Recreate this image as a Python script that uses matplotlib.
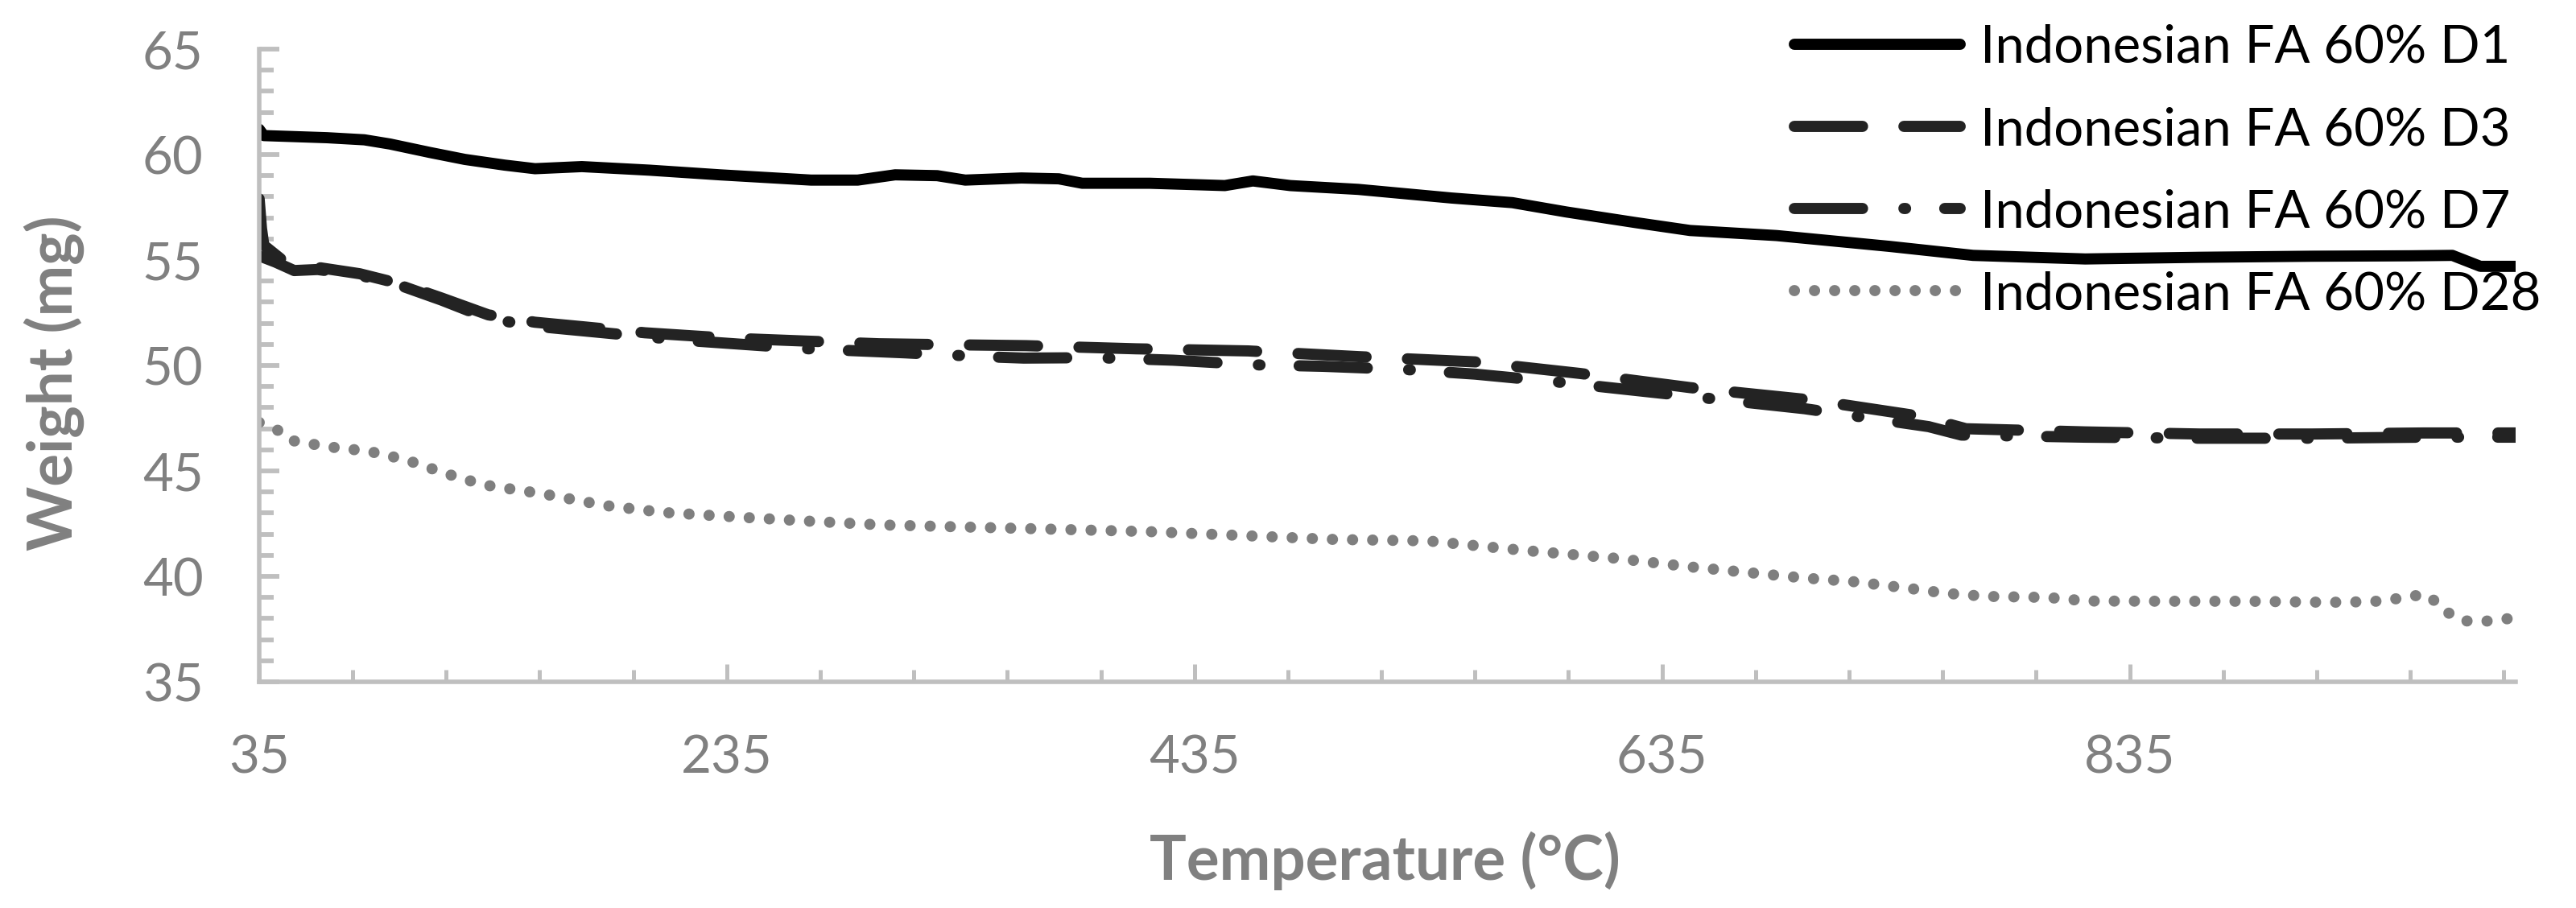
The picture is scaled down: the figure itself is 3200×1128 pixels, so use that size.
import numpy as np
import matplotlib
matplotlib.use("Agg")
import matplotlib.pyplot as plt
from matplotlib.ticker import MultipleLocator, FixedLocator

plt.rcParams['font.family'] = ['Lato', 'DejaVu Sans']

# ------------------------ data ------------------------
t_d1 = [35, 37, 64, 80, 91, 108, 123, 140, 153, 173, 202, 232, 271, 291, 307, 325,
        337, 361, 377, 387, 416, 448, 460, 476, 505, 545, 571, 594, 624, 647, 684,
        732, 768, 816, 865, 913, 955, 973, 985, 1000]
w_d1 = [61.2, 60.9, 60.8, 60.7, 60.5, 60.1, 59.77, 59.5, 59.33, 59.43, 59.26, 59.04,
        58.79, 58.79, 59.04, 59.0, 58.79, 58.89, 58.85, 58.64, 58.64, 58.53, 58.75,
        58.53, 58.35, 57.94, 57.72, 57.28, 56.77, 56.4, 56.16, 55.65, 55.22, 55.05,
        55.13, 55.18, 55.2, 55.22, 54.7, 54.7]

t_d3 = [35, 36, 37, 46, 60, 78, 96, 113, 133, 153, 174, 200, 235, 268, 300, 333, 363,
        410, 458, 505, 555, 600, 647, 700, 745, 765, 816, 865, 913, 961, 1000]
w_d3 = [57.9, 56.5, 55.7, 54.9, 54.65, 54.35, 53.85, 53.2, 52.4, 52.05, 51.83, 51.55,
        51.3, 51.16, 51.03, 50.98, 50.94, 50.79, 50.69, 50.42, 50.17, 49.62, 48.95,
        48.35, 47.6, 47.0, 46.85, 46.75, 46.75, 46.8, 46.8]

t_d7 = [35, 42, 50, 60, 78, 96, 113, 133, 153, 188, 216, 268, 311, 344, 362, 393, 426,
        461, 490, 525, 555, 590, 620, 645, 696, 749, 763, 816, 865, 913, 961, 1000]
w_d7 = [55.2, 54.9, 54.5, 54.55, 54.28, 53.77, 53.1, 52.23, 51.86, 51.49, 51.2, 50.8,
        50.6, 50.42, 50.35, 50.37, 50.25, 50.03, 49.96, 49.81, 49.59, 49.22, 48.86,
        48.56, 47.95, 47.1, 46.7, 46.6, 46.55, 46.55, 46.6, 46.6]

t_d28 = [35, 37, 44, 49, 64, 82, 98, 115, 131, 157, 183, 208, 234, 268, 301, 337, 416,
         495, 535, 575, 614, 647, 696, 716, 740, 757, 774, 800, 817, 852, 886, 920,
         938, 946, 955, 963, 969, 977, 985, 993, 1000]
w_d28 = [47.3, 47.2, 46.88, 46.44, 46.15, 45.93, 45.52, 44.87, 44.34, 43.9, 43.36,
         43.03, 42.85, 42.63, 42.44, 42.34, 42.12, 41.75, 41.68, 41.24, 40.87, 40.45,
         39.92, 39.76, 39.44, 39.19, 39.05, 39.0, 38.83, 38.82, 38.82, 38.77, 38.8,
         38.87, 39.08, 39.1, 38.42, 37.9, 37.85, 37.94, 38.04]

labels = ["Indonesian FA 60% D1", "Indonesian FA 60% D3",
          "Indonesian FA 60% D7", "Indonesian FA 60% D28"]

x_major = [35, 235, 435, 635, 835]

# ------------------------ figure ------------------------
grey_txt = '#808080'
grey_ax = '#BFBFBF'

fig = plt.figure(figsize=(32, 11.28), dpi=100)
ax = fig.add_axes([0.1006, 0.2491, 0.8759, 0.6968])

lw = 10
ax.plot(t_d1, w_d1, color='black', lw=lw, solid_capstyle='round',
        solid_joinstyle='round', label=labels[0])
ax.plot(t_d3, w_d3, color='#232323', lw=lw, linestyle=(0, (6.1, 3.7)),
        dash_capstyle='round', label=labels[1])
ax.plot(t_d7, w_d7, color='#232323', lw=lw, linestyle=(0, (6.1, 3.7, 0.15, 3.5)),
        dash_capstyle='round', label=labels[2])
ax.plot(t_d28, w_d28, color='#7f7f7f', lw=lw, linestyle=(0, (0.01, 1.79)),
        dash_capstyle='round', label=labels[3])

ax.set_xlim(35, 1000)
ax.set_ylim(35, 65)

for side in ['top', 'right']:
    ax.spines[side].set_visible(False)
for side in ['left', 'bottom']:
    ax.spines[side].set_color(grey_ax)
    ax.spines[side].set_linewidth(4)

ax.xaxis.set_major_locator(FixedLocator(x_major))
ax.xaxis.set_minor_locator(MultipleLocator(40, offset=35))
ax.yaxis.set_major_locator(MultipleLocator(5))
ax.yaxis.set_minor_locator(MultipleLocator(1))

ax.tick_params(axis='x', which='major', direction='in', length=16, width=3.6,
               color=grey_ax, labelcolor=grey_txt, labelsize=47, pad=47)
ax.tick_params(axis='x', which='minor', direction='in', length=11, width=3.6,
               color=grey_ax)
ax.tick_params(axis='y', which='major', direction='in', length=18, width=4.2,
               color=grey_ax, labelcolor=grey_txt, labelsize=47, pad=50)
ax.tick_params(axis='y', which='minor', direction='in', length=13, width=4.2,
               color=grey_ax)

ax.set_xlabel("Temperature (°C)", fontsize=55, fontweight='bold', color=grey_txt)
ax.xaxis.label.set_va('center')
ax.xaxis.set_label_coords(0.4989, -0.2824)
ax.set_ylabel("Weight (mg)", fontsize=55, fontweight='bold', color=grey_txt)
ax.yaxis.label.set_va('center')
ax.yaxis.set_label_coords(-0.091, 0.472)

leg = ax.legend(loc='upper left', bbox_to_anchor=(2229 / 3200, 1 - 30 / 1128),
                bbox_transform=fig.transFigure, frameon=False, fontsize=47,
                handlelength=3.16, handletextpad=0.38, labelspacing=0.66,
                borderpad=0, borderaxespad=0)
for txt in leg.get_texts():
    txt.set_color('black')

fig.savefig("out.png", dpi=100)
